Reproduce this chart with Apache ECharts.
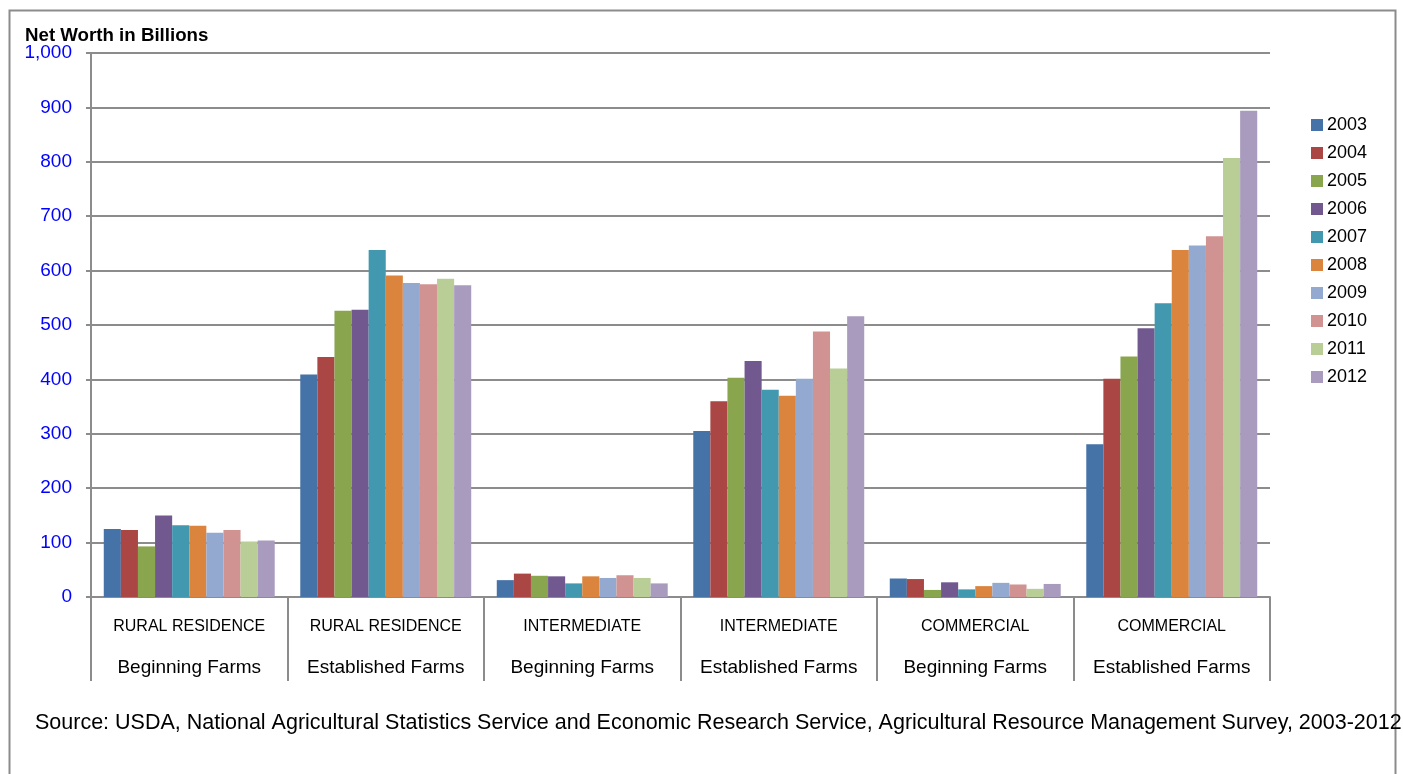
<!DOCTYPE html>
<html>
<head>
<meta charset="utf-8">
<title>Net Worth in Billions</title>
<script src="https://cdn.jsdelivr.net/npm/echarts@6/dist/echarts.min.js"></script>
<style>
  html, body { margin: 0; padding: 0; background: #ffffff; }
  #chart { width: 1403px; height: 774px; }
</style>
</head>
<body>
<div id="chart"></div>
<script>
// Farm typology (upper label line) and farm stage (lower label line)
const farmTypes = ['RURAL RESIDENCE', 'RURAL RESIDENCE', 'INTERMEDIATE', 'INTERMEDIATE', 'COMMERCIAL', 'COMMERCIAL'];
const farmStages = ['Beginning Farms', 'Established Farms', 'Beginning Farms', 'Established Farms', 'Beginning Farms', 'Established Farms'];

const years = ['2003', '2004', '2005', '2006', '2007', '2008', '2009', '2010', '2011', '2012'];

// Net worth (billions of dollars) per year, one value per farm group
const netWorth2003 = [125, 409, 31, 305, 34, 281];
const netWorth2004 = [123, 441, 43, 360, 33, 401];
const netWorth2005 = [93, 526, 39, 403, 13, 442];
const netWorth2006 = [150, 528, 38, 434, 27, 494];
const netWorth2007 = [132, 638, 25, 381, 14, 540];
const netWorth2008 = [131, 591, 38, 370, 20, 638];
const netWorth2009 = [118, 577, 35, 401, 26, 646];
const netWorth2010 = [123, 575, 40, 488, 23, 663];
const netWorth2011 = [102, 585, 35, 420, 15, 807];
const netWorth2012 = [104, 573, 25, 516, 24, 894];

const yearValues = [netWorth2003, netWorth2004, netWorth2005, netWorth2006, netWorth2007,
                    netWorth2008, netWorth2009, netWorth2010, netWorth2011, netWorth2012];

const yearColors = ['#4572A7', '#AA4643', '#89A54E', '#71588F', '#4198AF',
                    '#DB843D', '#93A9CF', '#D19392', '#B9CD96', '#A99BBD'];

const FONT = '"Liberation Sans", Arial, sans-serif';
const GRID_GRAY = '#8c8c8c';

const chart = echarts.init(document.getElementById('chart'), null, { renderer: 'canvas' });

const series = years.map((y, i) => ({
  name: y,
  type: 'bar',
  data: yearValues[i],
  barGap: '0%',
  barCategoryGap: '13%',
  itemStyle: { color: yearColors[i] },
  emphasis: { disabled: true }
}));

chart.setOption({
  animation: false,
  backgroundColor: '#ffffff',
  textStyle: { fontFamily: FONT },
  grid: { left: 91, right: 133, top: 53, bottom: 177, containLabel: false },
  legend: {
    orient: 'vertical',
    left: 1306,
    top: 111,
    itemWidth: 12,
    itemHeight: 12,
    itemGap: 10,
    icon: 'rect',
    selectedMode: false,
    data: years,
    textStyle: { fontFamily: FONT, fontSize: 18, color: '#000000', padding: [0, 0, 0, -1] }
  },
  xAxis: {
    type: 'category',
    data: farmTypes.map((t, i) => t + '|' + farmStages[i]),
    axisLine: { show: true, lineStyle: { color: GRID_GRAY, width: 2 } },
    axisTick: { show: true, interval: 0, length: 84, lineStyle: { color: GRID_GRAY, width: 2 } },
    axisLabel: {
      interval: 0,
      margin: 9,
      formatter: function (v) {
        const parts = v.split('|');
        return '{a|' + parts[0] + '}\n{b|' + parts[1] + '}';
      },
      rich: {
        a: { fontFamily: FONT, fontSize: 16, lineHeight: 41, color: '#000000' },
        b: { fontFamily: FONT, fontSize: 19, lineHeight: 41, color: '#000000' }
      }
    },
    splitLine: { show: false }
  },
  yAxis: {
    type: 'value',
    min: 0,
    max: 1000,
    interval: 100,
    axisLine: { show: true, lineStyle: { color: GRID_GRAY, width: 2 } },
    axisTick: { show: true, length: 5, lineStyle: { color: GRID_GRAY, width: 2 } },
    axisLabel: {
      margin: 19,
      fontFamily: FONT,
      fontSize: 19,
      color: '#0000FF',
      formatter: function (v) { return v.toLocaleString('en-US'); }
    },
    splitLine: { show: true, lineStyle: { color: GRID_GRAY, width: 2 } }
  },
  series: series,
  graphic: [
    {
      type: 'rect',
      silent: true,
      shape: { x: 9.5, y: 10.5, width: 1386, height: 800 },
      style: { fill: 'none', stroke: GRID_GRAY, lineWidth: 2 }
    },
    {
      type: 'text',
      left: 25,
      top: 26,
      silent: true,
      style: { text: 'Net Worth in Billions', fontFamily: FONT, fontSize: 18.7, fontWeight: 'bold', fill: '#000000' }
    },
    {
      type: 'text',
      left: 35,
      top: 712,
      silent: true,
      style: {
        text: 'Source: USDA, National Agricultural Statistics Service and Economic Research Service, Agricultural Resource Management Survey, 2003-2012',
        fontFamily: FONT, fontSize: 21.5, fill: '#000000'
      }
    }
  ]
});
</script>
</body>
</html>
